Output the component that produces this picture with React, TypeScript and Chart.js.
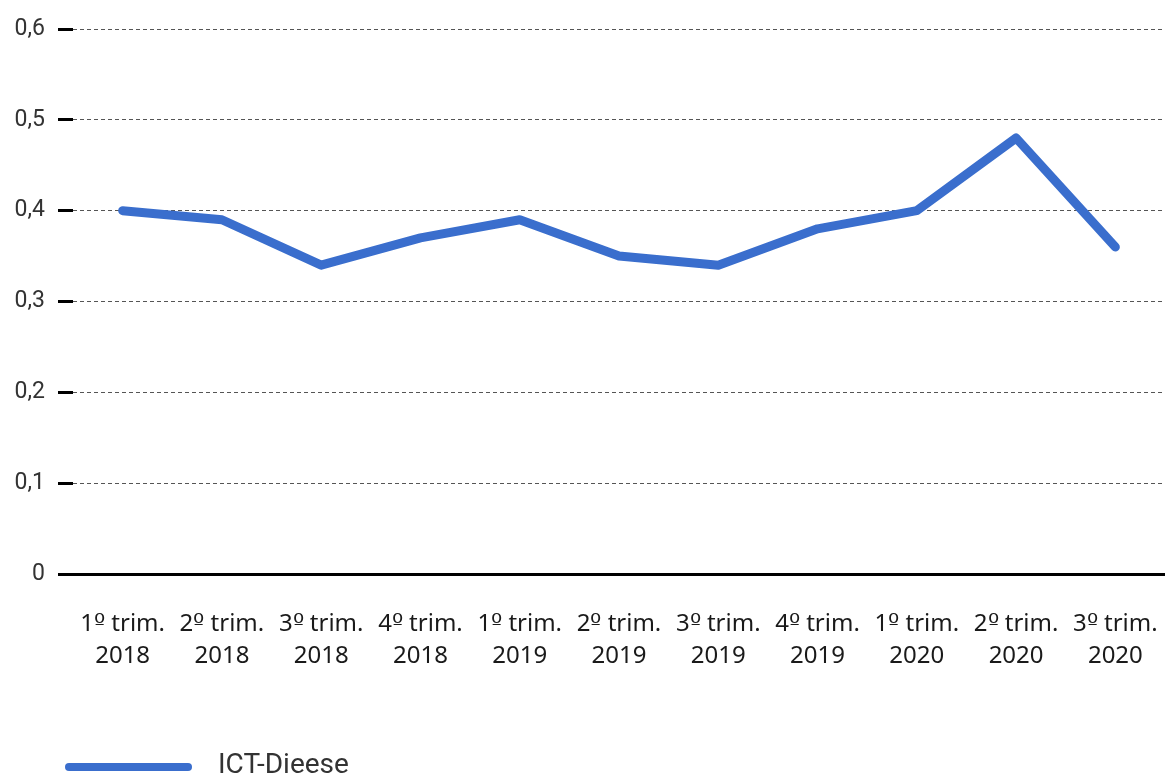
import React, { useEffect, useRef } from "react";
import { Chart, registerables } from "chart.js";

Chart.register(...registerables);

const quarters: string[] = ["1º trim.", "2º trim.", "3º trim.", "4º trim.", "1º trim.", "2º trim.", "3º trim.", "4º trim.", "1º trim.", "2º trim.", "3º trim."];
const years: string[] = ["2018", "2018", "2018", "2018", "2019", "2019", "2019", "2019", "2020", "2020", "2020"];
const ictDieese: number[] = [0.40, 0.39, 0.34, 0.37, 0.39, 0.35, 0.34, 0.38, 0.40, 0.48, 0.36];
const seriesName = "ICT-Dieese";
const yMin = 0;
const yMax = 0.6;
const yStep = 0.1;

const LINE_COLOR = "#3a6ecd";

const FONT_CSS = `
@font-face { font-family: "OrdFix"; src: local("DejaVu Sans"), local("DejaVuSans"); unicode-range: U+00BA; }
`;

export default function App() {
  const canvasRef = useRef<HTMLCanvasElement | null>(null);

  useEffect(() => {
    if (!canvasRef.current) return;
    let chart: Chart | null = null;
    let cancelled = false;
    const style = document.createElement("style");
    style.textContent = FONT_CSS;
    document.head.appendChild(style);

    const build = () => {
      if (cancelled || !canvasRef.current) return;
      const labels = quarters.map((q, i) => [q, years[i]]);
      chart = new Chart(canvasRef.current, {
        type: "line",
        data: {
          labels,
          datasets: [
            {
              label: seriesName,
              data: ictDieese,
              borderColor: LINE_COLOR,
              backgroundColor: LINE_COLOR,
              borderWidth: 9,
              borderCapStyle: "round",
              borderJoinStyle: "round",
              pointRadius: 0,
              pointHoverRadius: 0,
              tension: 0,
              fill: false,
            },
          ],
        },
        options: {
          animation: false,
          responsive: false,
          maintainAspectRatio: false,
          events: [],
          layout: { padding: { top: 29, left: 0, right: 0, bottom: 0 } },
          plugins: {
            legend: { display: false },
            tooltip: { enabled: false },
          },
          scales: {
            x: {
              offset: true,
              grid: { display: false, drawTicks: false },
              border: { display: true, color: "#000", width: 3 },
              ticks: {
                padding: 34,
                maxRotation: 0,
                autoSkip: false,
                color: "#1a1a1a",
                font: { family: "OrdFix, 'Noto Sans'", size: 24, lineHeight: 1.33 },
              },
              afterFit: (scale: any) => {
                scale.height = 776 - 574;
                scale.paddingRight = 0;
                scale.paddingLeft = 0;
              },
            },
            y: {
              min: yMin,
              max: yMax,
              border: { display: false, dash: [4, 3] },
              grid: {
                color: (ctx: any) => (ctx.tick && ctx.tick.value === 0 ? "rgba(0,0,0,0)" : "#555"),
                lineWidth: 1,
                drawTicks: true,
                tickLength: 15,
                tickWidth: 3,
                tickColor: "#000",
              },
              ticks: {
                stepSize: yStep,
                padding: 13,
                color: "#333",
                font: { family: "Roboto", size: 23 },
                callback: (v: any) => {
                  const n = Number(v);
                  return n === 0 ? "0" : n.toFixed(1).replace(".", ",");
                },
              },
              afterFit: (scale: any) => {
                scale.width = 73;
              },
            },
          },
        },
      });
    };

    document.fonts
      .load('24px "OrdFix"', "º")
      .catch(() => undefined)
      .then(() => build());

    return () => {
      cancelled = true;
      if (chart) chart.destroy();
      style.remove();
    };
  }, []);

  return (
    <div style={{ position: "fixed", left: 0, top: 0, width: 1165, height: 776, background: "#fff", overflow: "hidden" }}>
      <canvas ref={canvasRef} width={1165} height={776} style={{ position: "absolute", left: 0, top: 0, width: 1165, height: 776 }} />
      <div style={{ position: "absolute", left: 65, top: 763, width: 127, height: 8, borderRadius: 4, background: LINE_COLOR }} />
      <div style={{ position: "absolute", left: 218, top: 750, fontFamily: "Roboto", fontSize: 28, lineHeight: "28px", color: "#333", whiteSpace: "nowrap" }}>
        {seriesName}
      </div>
    </div>
  );
}
